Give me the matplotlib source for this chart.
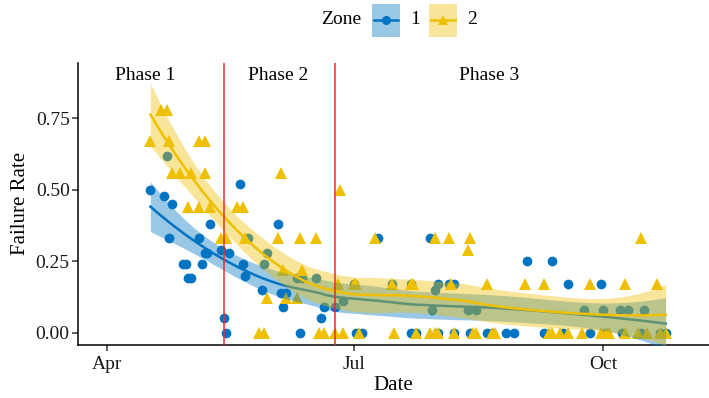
import numpy as np
import pandas as pd
import matplotlib
matplotlib.use("Agg")
import matplotlib.pyplot as plt
import matplotlib.dates as mdates
from matplotlib.patches import Rectangle
from matplotlib.lines import Line2D

# data (year is arbitrary)
zone1_dates = ["04-17", "04-22", "04-25", "04-23", "04-24", "04-29", "04-30", "05-01", "05-02", "05-05",
               "05-06", "05-07", "05-08", "05-09", "05-13", "05-14", "05-15", "05-16", "05-20", "05-21",
               "05-22", "05-23", "05-28", "05-29", "05-30", "06-03", "06-04", "06-06", "06-05", "06-10",
               "06-12", "06-11", "06-17", "06-19", "06-20", "06-24", "06-27",
               "07-01", "07-02", "07-04", "07-10", "07-15", "07-22", "07-22", "07-24", "07-29", "07-30",
               "07-31", "08-01", "08-01", "08-05", "08-07", "08-07", "08-12", "08-13", "08-15", "08-19",
               "08-21", "08-26", "08-29",
               "09-03", "09-09", "09-12", "09-16", "09-18", "09-24", "09-26", "09-30", "10-01", "10-02",
               "10-07", "10-08", "10-10", "10-15", "10-16", "10-22", "10-24"]
zone1_rate = [0.50, 0.48, 0.45, 0.62, 0.33, 0.24, 0.24, 0.19, 0.19, 0.33,
              0.24, 0.28, 0.28, 0.38, 0.29, 0.05, 0.00, 0.28, 0.52, 0.24,
              0.20, 0.33, 0.15, 0.24, 0.28, 0.38, 0.14, 0.14, 0.09, 0.19,
              0.19, 0.00, 0.19, 0.05, 0.09, 0.09, 0.11,
              0.17, 0.00, 0.00, 0.33, 0.17, 0.17, 0.00, 0.00, 0.33, 0.08,
              0.15, 0.17, 0.00, 0.17, 0.17, 0.00, 0.08, 0.00, 0.08, 0.00,
              0.00, 0.00, 0.00,
              0.25, 0.00, 0.25, 0.00, 0.17, 0.08, 0.00, 0.17, 0.08, 0.00,
              0.08, 0.00, 0.08, 0.00, 0.08, 0.00, 0.00]

zone2_dates = ["04-21", "04-23", "04-17", "04-24", "05-05", "05-07", "04-25", "04-28", "05-02", "05-07",
               "05-01", "05-05", "05-09", "05-19", "05-21", "06-04", "06-26", "05-13", "05-15", "05-22",
               "06-03", "06-11", "06-17", "05-30", "06-06", "06-10", "06-05", "06-12", "06-25", "05-27",
               "05-29", "06-18", "06-20", "06-24", "06-27",
               "07-09", "07-31", "08-05", "08-13", "08-12",
               "07-01", "07-02", "07-15", "07-22", "07-23", "08-06", "08-19", "09-02", "09-09", "09-26",
               "10-09", "10-21", "10-15",
               "07-03", "07-16", "07-24", "07-29", "07-31", "08-01", "08-07", "08-14", "08-15", "08-21",
               "08-22", "09-11", "09-12", "09-15", "09-18", "09-23", "09-30", "10-02", "10-03", "10-09",
               "10-14", "10-17", "10-22", "10-24"]
zone2_rate = [0.78, 0.78, 0.67, 0.67, 0.67, 0.67, 0.56, 0.56, 0.56, 0.56,
              0.44, 0.44, 0.44, 0.44, 0.44, 0.56, 0.50, 0.33, 0.33, 0.33,
              0.33, 0.33, 0.33, 0.12, 0.12, 0.12, 0.22, 0.22, 0.17, 0.00,
              0.00, 0.00, 0.00, 0.00, 0.00,
              0.33, 0.33, 0.33, 0.33, 0.29,
              0.17, 0.17, 0.17, 0.17, 0.17, 0.17, 0.17, 0.17, 0.17, 0.17,
              0.17, 0.17, 0.33,
              0.00, 0.00, 0.00, 0.00, 0.00, 0.00, 0.00, 0.00, 0.00, 0.00,
              0.00, 0.00, 0.00, 0.00, 0.00, 0.00, 0.00, 0.00, 0.00, 0.00,
              0.00, 0.00, 0.00, 0.00]

phase_breaks = ["05-14", "06-24"]
phase_labels = ["Phase 1", "Phase 2", "Phase 3"]
phase_label_dates = ["04-15", "06-03", "08-20"]

YEAR = "2019-"
blue = "#0073C2"
yellow = "#EFC000"


def to_num(md):
    return mdates.date2num(pd.to_datetime([YEAR + d for d in md]))


def loess(x, y, span=0.75, npts=80):
    # same idea as geom_smooth(method="loess"): degree 2, tricube weights
    n = len(x)
    q = int(np.floor(span * n))

    def rows(xs):
        L = np.zeros((len(xs), n))
        for i, x0 in enumerate(xs):
            d = np.abs(x - x0)
            h = np.sort(d)[q - 1]
            w = np.clip(1 - (d / h) ** 3, 0, None) ** 3
            X = np.column_stack([np.ones(n), x - x0, (x - x0) ** 2])
            XtW = X.T * w
            L[i] = np.linalg.solve(XtW @ X, XtW)[0]
        return L

    Lx = rows(x)
    M = np.eye(n) - Lx
    d1 = np.trace(M.T @ M)
    sigma = np.sqrt(np.sum((y - Lx @ y) ** 2) / d1)
    xs = np.linspace(x.min(), x.max(), npts)
    Ls = rows(xs)
    fit = Ls @ y
    se = sigma * np.sqrt(np.sum(Ls ** 2, axis=1))
    return xs, fit, fit - 1.98 * se, fit + 1.98 * se


plt.rcParams['font.family'] = ['Liberation Serif', 'DejaVu Serif']

fig = plt.figure(figsize=(7.09, 3.98), dpi=100)
ax = fig.add_axes([78 / 709, 1 - 345 / 398, 631 / 709, (345 - 62.7) / 398])

x1, y1 = to_num(zone1_dates), np.array(zone1_rate)
x2, y2 = to_num(zone2_dates), np.array(zone2_rate)

# points first, smooths drawn over them
ax.plot(x1, y1, 'o', color=blue, ms=7, mew=0, zorder=2)
ax.plot(x2, y2, '^', color=yellow, ms=8, mew=0, zorder=2)

for x, y, c in [(x1, y1, blue), (x2, y2, yellow)]:
    xs, fit, lo, hi = loess(x, y)
    ax.fill_between(xs, lo, hi, color=c, alpha=0.4, lw=0, zorder=3)
    ax.plot(xs, fit, color=c, lw=1.8, zorder=3)

for b in to_num(phase_breaks):
    ax.axvline(b, color="#F02828", lw=1.1, zorder=4)
for lab, d in zip(phase_labels, to_num(phase_label_dates)):
    ax.text(d, 0.9, lab, ha='center', va='center', fontsize=14)

ax.set_xlim(to_num(["03-21"])[0] + 0.3, to_num(["11-09"])[0])
ax.set_ylim(-0.043, 0.945)
ax.set_yticks([0, 0.25, 0.5, 0.75])
ax.set_yticklabels(["0.00", "0.25", "0.50", "0.75"])
ax.xaxis.set_major_locator(mdates.MonthLocator(bymonth=[4, 7, 10]))
ax.xaxis.set_major_formatter(mdates.DateFormatter("%b"))
ax.tick_params(labelsize=14, length=4, width=1.1, color="#333333", labelcolor="#1a1a1a", pad=2)
ax.tick_params(axis='x', pad=4)
for s in ["top", "right"]:
    ax.spines[s].set_visible(False)
for s in ["left", "bottom"]:
    ax.spines[s].set_linewidth(1.1)
ax.set_xlabel("Date", fontsize=15, labelpad=2)
ax.set_ylabel("Failure Rate", fontsize=15, labelpad=4)

# legend on top: "Zone" then two keys
def px(x, y):
    return x / 709, 1 - y / 398

fig.text(*px(341, 20), "Zone", fontsize=14, ha='center', va='center')
for x0, c, m, lab in [(372, blue, 'o', "1"), (429, yellow, '^', "2")]:
    fig.patches.append(Rectangle(px(x0, 37), 28 / 709, 33 / 398, transform=fig.transFigure,
                                 facecolor=c, alpha=0.4, lw=0))
    fig.lines.append(Line2D([px(x0 + 2, 20)[0], px(x0 + 26, 20)[0]], [px(0, 20)[1]] * 2,
                            transform=fig.transFigure, color=c, lw=1.8))
    fig.lines.append(Line2D([px(x0 + 14, 20)[0]], [px(0, 20)[1]], transform=fig.transFigure,
                            marker=m, color=c, ms=6.5 if m == 'o' else 7.5, mew=0))
    fig.text(*px(x0 + 43, 20), lab, fontsize=14, ha='center', va='center')

fig.savefig("out.png", dpi=100)
